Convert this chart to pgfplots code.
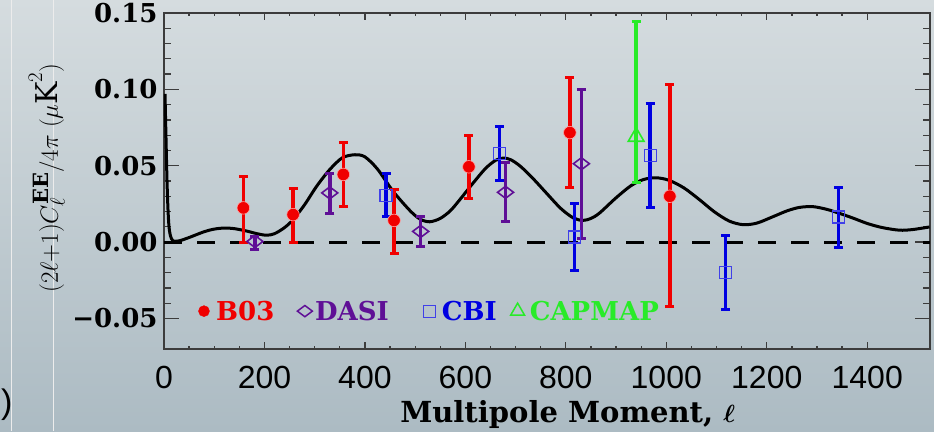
\documentclass[border=0pt]{standalone}
\usepackage{pgfplots}
\pgfplotsset{compat=1.18}
\usepackage{fontspec}
\setmainfont{DejaVu Serif}
\newfontfamily\lsans{Liberation Sans}
\definecolor{bgtop}{RGB}{213,220,223}
\definecolor{bgbot}{RGB}{172,187,195}
\definecolor{bred}{RGB}{240,0,0}
\definecolor{dpurple}{RGB}{95,15,150}
\definecolor{cblue}{RGB}{0,0,225}
\definecolor{cgreen}{RGB}{40,235,40}
\definecolor{frame}{RGB}{60,60,60}
\pgfplotsset{
  common/.style={at={(0pt,0pt)}, anchor=south west, scale only axis,
    width=766pt, height=336pt, xmin=0, xmax=1525, ymin=-0.07, ymax=0.15,
    axis line style={line width=1.8pt, draw=frame},
    tick style={line width=1.3pt, draw=frame}, tick align=inside},
  eb/.style={error bars/.cd, y dir=both, y explicit,
    error bar style={line width=3.5pt},
    error mark=|,
    error mark options={line width=3pt, mark size=4.5pt}},
}
\begin{document}
\begin{tikzpicture}[x=1pt,y=1pt]
\useasboundingbox (-164,-82) rectangle (770,349);
\shade[top color=bgtop,bottom color=bgbot] (-164,-82) rectangle (770,349);
\draw[white!85!gray, line width=1pt] (-152,-82) -- (-152,349);
\draw[white!85!gray, line width=1pt] (-110,-82) -- (-110,349);
\node[font=\lsans\fontsize{34}{38}\selectfont, text=black, anchor=west, inner sep=0pt] at (-163,-56) {)};

\begin{axis}[common, xtick=\empty,
  ytick={-0.05,0,0.05,0.1,0.15}, yticklabels={−0.05,0.00,0.05,0.10,0.15},
  minor y tick num=4, major tick length=15pt, minor tick length=7.5pt,
  yticklabel style={font=\bfseries\fontsize{26}{30}\selectfont, xshift=-3pt},
  ylabel={$(2\ell{+}1)C_\ell^{\mathbf{EE}}/4\pi\;(\mu\mathrm{K}^2)$},
  ylabel style={font=\fontsize{30}{34}\selectfont, at={(axis description cs:-0.153,0.509)}, anchor=center}]
\end{axis}

\begin{axis}[common, ytick=\empty,
  xtick={0,200,400,600,800,1000,1200,1400},
  xticklabels={0,200,400,600,800,1000,1200,1400},
  minor x tick num=3, major tick length=7pt, minor tick length=3.5pt,
  xticklabel style={font=\lsans\fontsize{32}{36}\selectfont, yshift=-14pt},
  xlabel={Multipole Moment, {\boldmath$\ell$}},
  xlabel style={font=\bfseries\fontsize{29}{34}\selectfont, at={(axis description cs:0.527,-0.195)}, anchor=center}]

% zero line
\addplot[black, line width=3pt, dash pattern=on 18pt off 15pt] coordinates {(0,0) (1525,0)};

% theory curve
\addplot[black, line width=3pt, smooth] coordinates {
(2,0.097) (4,0.068) (6,0.040) (8,0.021) (10,0.010) (13,0.004) (18,0.0008) (30,0.0008)
(50,0.003) (80,0.0068) (100,0.0085) (120,0.0092) (140,0.0088) (165,0.0072) (185,0.0055)
(204,0.0045) (220,0.0055) (240,0.0095) (257,0.0147) (280,0.0245) (304,0.0366) (330,0.0475)
(355,0.0552) (380,0.0572) (400,0.0558) (425,0.0478) (456,0.0333) (490,0.0205) (510,0.0150)
(529,0.0133) (550,0.0155) (570,0.0205) (589,0.0278) (615,0.0385) (640,0.0482) (660,0.0535)
(675,0.0550) (690,0.0540) (710,0.0495) (735,0.0415) (761,0.0322) (790,0.0220) (815,0.0158)
(834,0.0142) (850,0.0155) (867,0.0190) (900,0.0290) (930,0.0370) (955,0.0410) (980,0.0421)
(1005,0.0405) (1035,0.0355) (1066,0.0278) (1095,0.0200) (1125,0.0138) (1153,0.0114)
(1180,0.0124) (1210,0.0163) (1240,0.0204) (1265,0.0227) (1292,0.0232) (1320,0.0214)
(1345,0.0188) (1371,0.0158) (1400,0.0122) (1430,0.0095) (1464,0.0078) (1490,0.0082) (1524,0.0099)};

% DASI
\addplot[only marks, color=dpurple, mark=diamond, mark size=8pt, mark options={rotate=90, line width=1.6pt}, eb] coordinates {
(181,0.0004) += (0,0.003) -= (0,0.005)
(330,0.0322) += (0,0.0127) -= (0,0.0132)
(511,0.0070) += (0,0.0098) -= (0,0.0099)
(680,0.0326) += (0,0.0194) -= (0,0.0190)
(831,0.0513) += (0,0.0484) -= (0,0.0487)};

% CBI
\addplot[only marks, color=cblue, mark=square, mark size=6pt, mark options={line width=1.2pt, draw=cblue!75!white}, eb] coordinates {
(442,0.0305) += (0,0.0144) -= (0,0.0137)
(668,0.0581) += (0,0.0173) -= (0,0.0176)
(817,0.0033) += (0,0.0219) -= (0,0.0222)
(968,0.0568) += (0,0.0340) -= (0,0.0344)
(1118,-0.0200) += (0,0.0243) -= (0,0.0241)
(1343,0.0164) += (0,0.0191) -= (0,0.0200)};

% CAPMAP
\addplot[only marks, color=cgreen, mark=triangle, mark size=9pt, mark options={line width=1.6pt}, eb] coordinates {
(940,0.0690) += (0,0.0755) -= (0,0.0298)};

% B03
\addplot[only marks, color=bred, mark=*, mark size=6.3pt, mark options={draw=red!35!white, line width=0.6pt}, eb] coordinates {
(158,0.0224) += (0,0.0208) -= (0,0.0224)
(257,0.0180) += (0,0.0169) -= (0,0.0180)
(357,0.0443) += (0,0.0212) -= (0,0.0213)
(458,0.0142) += (0,0.0202) -= (0,0.0214)
(607,0.0493) += (0,0.0206) -= (0,0.0208)
(808,0.0717) += (0,0.0362) -= (0,0.0358)
(1007,0.0300) += (0,0.0735) -= (0,0.0724)};

% legend
\addplot[only marks, color=bred, mark=*, mark size=5.5pt] coordinates {(79.6,-0.0452)};
\addplot[only marks, color=dpurple, mark=diamond, mark size=7.5pt, mark options={rotate=90, line width=1.5pt}] coordinates {(280.5,-0.0452)};
\addplot[only marks, color=cblue, mark=square, mark size=6pt, mark options={line width=1.2pt, draw=cblue!75!white}] coordinates {(529,-0.0452)};
\addplot[only marks, color=cgreen, mark=triangle, mark size=8pt, mark options={line width=1.5pt}] coordinates {(704,-0.0452)};
\node[anchor=west, inner sep=0pt, text=bred, font=\bfseries\fontsize{26}{30}\selectfont] at (axis cs:103.5,-0.0452) {B03};
\node[anchor=west, inner sep=0pt, text=dpurple, font=\bfseries\fontsize{26}{30}\selectfont] at (axis cs:300.4,-0.0452) {DASI};
\node[anchor=west, inner sep=0pt, text=cblue, font=\bfseries\fontsize{26}{30}\selectfont] at (axis cs:553,-0.0452) {CBI};
\node[anchor=west, inner sep=0pt, text=cgreen, font=\bfseries\fontsize{26}{30}\selectfont] at (axis cs:728,-0.0452) {CAPMAP};
\end{axis}
\end{tikzpicture}
\end{document}
